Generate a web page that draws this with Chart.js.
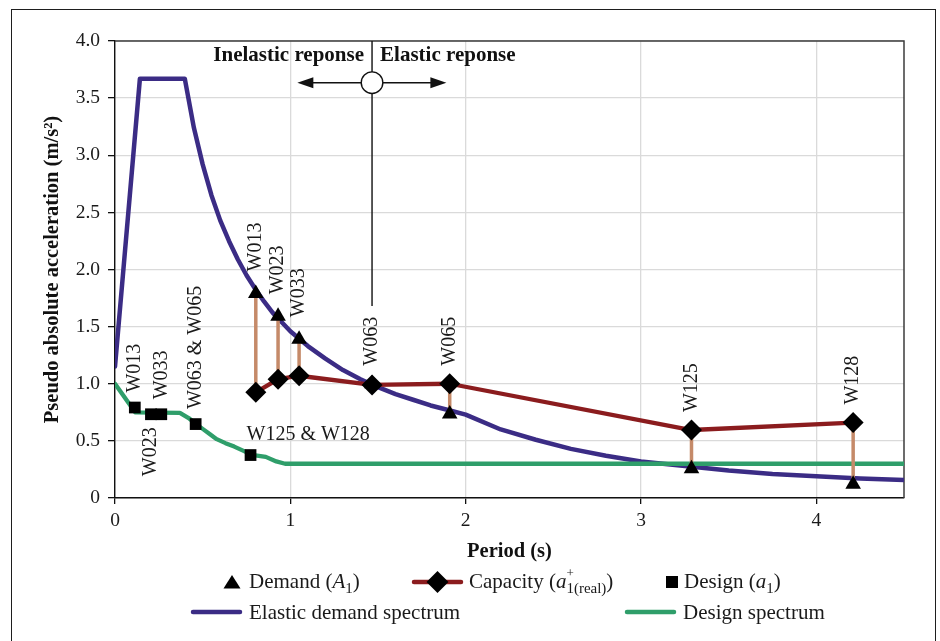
<!DOCTYPE html>
<html>
<head>
<meta charset="utf-8">
<script src="https://cdn.jsdelivr.net/npm/chart.js@4.4.1/dist/chart.umd.min.js"></script>
<style>
  body { margin: 0; background: #fff; }
  #wrap { position: relative; width: 940px; height: 641px; overflow: hidden;
          font-family: 'Liberation Serif', 'Times New Roman', serif; color: #1a1a1a; }
  #frame { position: absolute; left: 11px; top: 9px; width: 925px; height: 720px;
           border: 1.3px solid #1e1e1e; box-sizing: border-box; }
  #chart { position: absolute; left: 0; top: 0; }
  .lg { position: absolute; font-size: 21px; line-height: 24px; white-space: nowrap; }
  .lg sub { font-size: 15px; line-height: 0; vertical-align: -0.3em; position: relative; }
  .lg .plus { position: absolute; left: 0px; top: -14px; font-size: 13px; line-height: 1; }
  .mk { position: absolute; overflow: visible; }
</style>
</head>
<body>
<div id="wrap">
  <div id="frame"></div>
  <canvas id="chart" width="940" height="641"></canvas>

  <!-- legend -->
  <svg class="mk" style="left:223px;top:575px" width="18" height="14"><polygon points="9,0 17.5,13.5 0.5,13.5" fill="#000"/></svg>
  <div class="lg" style="left:249px;top:569px">Demand (<i>A</i><sub>1</sub>)</div>

  <svg class="mk" style="left:410px;top:570px" width="56" height="24">
    <line x1="4" y1="12" x2="51" y2="12" stroke="#8b1c1e" stroke-width="4.5" stroke-linecap="round"/>
    <polygon points="27.5,1 38.5,12 27.5,23 16.5,12" fill="#000"/>
  </svg>
  <div class="lg" style="left:469px;top:569px">Capacity (<i>a</i><sub>1(real)<span class="plus">+</span></sub>)</div>

  <svg class="mk" style="left:666px;top:576px" width="12" height="12"><rect x="0" y="0" width="12" height="12" fill="#000"/></svg>
  <div class="lg" style="left:684px;top:569px">Design (<i>a</i><sub>1</sub>)</div>

  <svg class="mk" style="left:188px;top:606px" width="56" height="12">
    <line x1="5" y1="6" x2="52" y2="6" stroke="#3b2c85" stroke-width="4.5" stroke-linecap="round"/>
  </svg>
  <div class="lg" style="left:249px;top:600px">Elastic demand spectrum</div>

  <svg class="mk" style="left:622px;top:606px" width="56" height="12">
    <line x1="5" y1="6" x2="52" y2="6" stroke="#2f9e6a" stroke-width="4.5" stroke-linecap="round"/>
  </svg>
  <div class="lg" style="left:683px;top:600px">Design spectrum</div>
</div>

<script>
// ---- tested specimens: period, demand A1 and real capacity a1+ ----
const specimens  = ['W013', 'W023', 'W033', 'W063', 'W065', 'W125', 'W128'];
const periods    = [0.803, 0.93, 1.05, 1.466, 1.909, 3.288, 4.21];
const demandA1   = [1.79, 1.59, 1.39, 1.00, 0.735, 0.255, 0.12];
const capacityA1 = [0.925, 1.04, 1.07, 0.99, 1.00, 0.595, 0.66];

// ---- design points a1 (some specimens share the same point) ----
const designLabels  = ['W013', 'W023', 'W033', 'W063 & W065', 'W125 & W128'];
const designPeriods = [0.113, 0.205, 0.264, 0.46, 0.773];
const designA1      = [0.792, 0.733, 0.733, 0.647, 0.376];

// ---- elastic demand spectrum ----
const elasticT = [0, 0.142, 0.398, 0.45, 0.5, 0.55, 0.6, 0.65, 0.7, 0.75, 0.8, 0.85, 0.9, 0.95,
                  1.0, 1.1, 1.2, 1.3, 1.4, 1.5, 1.6, 1.7, 1.8, 1.9, 2.0, 2.2, 2.4, 2.6, 2.8,
                  3.0, 3.25, 3.5, 3.75, 4.0, 4.25, 4.5];
const elasticA = [1.15, 3.67, 3.67, 3.24, 2.92, 2.65, 2.43, 2.25, 2.09, 1.95, 1.83, 1.72, 1.62, 1.54,
                  1.46, 1.33, 1.22, 1.12, 1.04, 0.97, 0.91, 0.86, 0.81, 0.77, 0.73, 0.60, 0.51, 0.43, 0.37,
                  0.32, 0.28, 0.24, 0.21, 0.19, 0.17, 0.158];

// ---- design spectrum ----
const designSpecT = [0, 0.115, 0.37, 0.42, 0.46, 0.5, 0.54, 0.58, 0.63, 0.68, 0.73, 0.78, 0.86, 0.92, 0.97, 4.5];
const designSpecA = [1.0, 0.75, 0.745, 0.70, 0.65, 0.605, 0.56, 0.515, 0.48, 0.45, 0.415, 0.378, 0.36, 0.32, 0.30, 0.30];

// ---- axis ticks ----
const periodTicks = [0, 1, 2, 3, 4];
const periodTickLabels = ['0', '1', '2', '3', '4'];
const accelTicks = [0, 0.5, 1.0, 1.5, 2.0, 2.5, 3.0, 3.5, 4.0];
const accelTickLabels = ['0', '0.5', '1.0', '1.5', '2.0', '2.5', '3.0', '3.5', '4.0'];

// ---- inelastic / elastic boundary marker ----
const boundaryPeriod = 1.466;
const boundaryLineBottomA = 1.68;
const boundaryMarkerA = 3.635;
const arrowTipsT = [1.04, 1.89];
const responseTextA = 3.87;
const responseLabels = ['Inelastic reponse', 'Elastic reponse'];

// label placement for the design points
const designLabelSide = ['up', 'down', 'up', 'up', 'flat'];

const BLUE = '#3b2c85', RED = '#8b1c1e', GREEN = '#2f9e6a', TAN = '#c58a69';
const FONT = "'Liberation Serif', 'Times New Roman', serif";

const pts = (xs, ys) => xs.map((v, i) => ({ x: v, y: ys[i] }));

// capacity-to-demand connectors, broken by gaps between specimens
const connectorPts = [];
periods.forEach((t, i) => {
  connectorPts.push({ x: t, y: capacityA1[i] }, { x: t, y: demandA1[i] }, { x: t, y: null });
});

const plotFrame = {
  id: 'plotFrame',
  beforeDatasetsDraw(chart) {
    const { ctx, chartArea: a } = chart;
    ctx.save();
    ctx.strokeStyle = '#3c3c3c';
    ctx.lineWidth = 1.5;
    ctx.beginPath();
    ctx.moveTo(a.left, a.top);
    ctx.lineTo(a.right, a.top);
    ctx.lineTo(a.right, a.bottom);
    ctx.stroke();
    ctx.restore();
  }
};

const annotations = {
  id: 'annotations',
  afterDatasetsDraw(chart) {
    const { ctx, chartArea: a, scales: { x, y } } = chart;
    ctx.save();

    // specimen names above the demand / capacity pair
    ctx.fillStyle = '#1a1a1a';
    ctx.font = '20px ' + FONT;
    ctx.textBaseline = 'middle';
    specimens.forEach((name, i) => {
      const px = x.getPixelForValue(periods[i]);
      const pd = y.getPixelForValue(demandA1[i]);
      const pc = y.getPixelForValue(capacityA1[i]);
      const start = demandA1[i] > capacityA1[i] + 0.05 ? pd - 22 : Math.min(pd, pc) - 18;
      ctx.save();
      ctx.translate(px, start);
      ctx.rotate(-Math.PI / 2);
      ctx.textAlign = 'left';
      ctx.fillText(name, 0, 0);
      ctx.restore();
    });

    // design point names
    designLabels.forEach((name, i) => {
      const px = x.getPixelForValue(designPeriods[i]);
      const py = y.getPixelForValue(designA1[i]);
      const side = designLabelSide[i];
      ctx.save();
      if (side === 'flat') {
        ctx.textAlign = 'left';
        ctx.fillText(name, px - 4, py - 20);
      } else if (side === 'down') {
        ctx.translate(px, py + 13);
        ctx.rotate(-Math.PI / 2);
        ctx.textAlign = 'right';
        ctx.fillText(name, 0, 0);
      } else {
        ctx.translate(px, py - 15);
        ctx.rotate(-Math.PI / 2);
        ctx.textAlign = 'left';
        ctx.fillText(name, 0, 0);
      }
      ctx.restore();
    });

    // inelastic / elastic boundary
    const bx = x.getPixelForValue(boundaryPeriod);
    const by = y.getPixelForValue(boundaryLineBottomA);
    const cy = y.getPixelForValue(boundaryMarkerA);
    const lx = x.getPixelForValue(arrowTipsT[0]);
    const rx = x.getPixelForValue(arrowTipsT[1]);
    const head = 16, half = 5.5;
    ctx.strokeStyle = '#111';
    ctx.fillStyle = '#111';
    ctx.lineWidth = 1.4;
    ctx.beginPath();
    ctx.moveTo(bx, a.top); ctx.lineTo(bx, by);
    ctx.moveTo(lx + head - 1, cy); ctx.lineTo(rx - head + 1, cy);
    ctx.stroke();
    ctx.beginPath();
    ctx.moveTo(lx, cy); ctx.lineTo(lx + head, cy - half); ctx.lineTo(lx + head, cy + half); ctx.closePath();
    ctx.moveTo(rx, cy); ctx.lineTo(rx - head, cy - half); ctx.lineTo(rx - head, cy + half); ctx.closePath();
    ctx.fill();
    ctx.beginPath();
    ctx.arc(bx, cy, 10.8, 0, Math.PI * 2);
    ctx.fillStyle = '#fff';
    ctx.fill();
    ctx.stroke();

    const ty = y.getPixelForValue(responseTextA);
    ctx.fillStyle = '#111';
    ctx.font = 'bold 21px ' + FONT;
    ctx.textBaseline = 'middle';
    ctx.textAlign = 'right';
    ctx.fillText(responseLabels[0], bx - 8, ty);
    ctx.textAlign = 'left';
    ctx.fillText(responseLabels[1], bx + 8, ty);
    ctx.restore();
  }
};

Chart.defaults.font.family = FONT;
Chart.defaults.color = '#1a1a1a';

new Chart(document.getElementById('chart'), {
  type: 'line',
  data: {
    datasets: [
      { label: 'Elastic demand spectrum', data: pts(elasticT, elasticA), borderColor: BLUE,
        borderWidth: 4.5, pointRadius: 0, borderJoinStyle: 'round', borderCapStyle: 'round', order: 5 },
      { label: 'Design spectrum', data: pts(designSpecT, designSpecA), borderColor: GREEN,
        borderWidth: 4.3, pointRadius: 0, borderJoinStyle: 'round', borderCapStyle: 'round', order: 4 },
      { label: 'connectors', data: connectorPts, borderColor: TAN, borderWidth: 3.5,
        pointRadius: 0, spanGaps: false, order: 3 },
      { label: 'Capacity', data: pts(periods, capacityA1), borderColor: RED, borderWidth: 4.3,
        borderJoinStyle: 'round', pointStyle: 'rectRot', pointRadius: 10.5,
        pointBackgroundColor: '#000', pointBorderColor: '#000', pointBorderWidth: 0, order: 2 },
      { label: 'Design', data: pts(designPeriods, designA1), showLine: false, pointStyle: 'rect',
        pointRadius: 8.3, pointBackgroundColor: '#000', pointBorderColor: '#000', pointBorderWidth: 0, order: 1 },
      { label: 'Demand', data: pts(periods, demandA1), showLine: false, pointStyle: 'triangle',
        pointRadius: 9, pointBackgroundColor: '#000', pointBorderColor: '#000', pointBorderWidth: 0, order: 0 }
    ]
  },
  options: {
    responsive: false,
    animation: false,
    events: [],
    layout: { padding: { top: 41, right: 36, left: 0, bottom: 0 } },
    plugins: { legend: { display: false }, tooltip: { enabled: false } },
    scales: {
      x: {
        type: 'linear', min: 0, max: 4.5,
        afterFit(s) { s.height = 143; },
        afterBuildTicks(s) { s.ticks = periodTicks.map(v => ({ value: v })); },
        ticks: { callback: (v, i) => periodTickLabels[i], font: { size: 19.5 }, padding: 5,
                 maxRotation: 0, autoSkip: false, color: '#1a1a1a' },
        grid: { color: '#dadada', lineWidth: 1.3, tickColor: '#111', tickLength: 6 },
        border: { color: '#111', width: 1.4 },
        title: { display: true, text: 'Period (s)', font: { size: 20.5, weight: 'bold' },
                 padding: { top: 0, bottom: 77 }, color: '#111' }
      },
      y: {
        type: 'linear', min: 0, max: 4,
        afterFit(s) { s.width = 115; },
        afterBuildTicks(s) { s.ticks = accelTicks.map(v => ({ value: v })); },
        ticks: { callback: (v, i) => accelTickLabels[i], font: { size: 19.5 }, padding: 8, color: '#1a1a1a' },
        grid: { color: '#dadada', lineWidth: 1.3, tickColor: '#111', tickLength: 7 },
        border: { color: '#111', width: 1.4 },
        title: { display: true, text: 'Pseudo absolute acceleration (m/s²)', font: { size: 20.5, weight: 'bold' },
                 padding: { top: 40, bottom: 0 }, color: '#111' }
      }
    }
  },
  plugins: [plotFrame, annotations]
});
</script>
</body>
</html>
